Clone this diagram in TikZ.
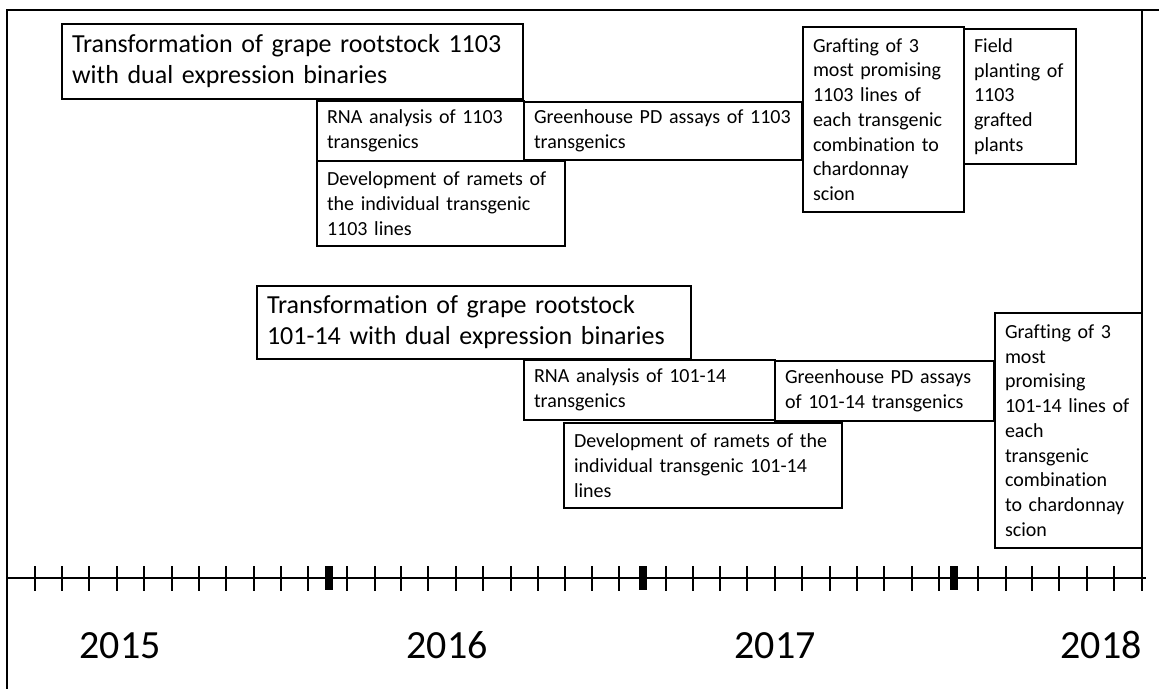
\documentclass[tikz,border=0pt]{standalone}
\usepackage{fontspec}
\setmainfont{Carlito}[Ligatures=NoCommon]
\begin{document}
\begin{tikzpicture}[x=1pt, y=-1pt, bigBoxStyle/.style={rectangle, draw, line width=1.2pt, inner xsep=10pt, inner ysep=0pt, align=left, font=\fontsize{26}{31}\selectfont}, boxStyle/.style={rectangle, draw, line width=1.2pt, inner xsep=10pt, inner ysep=0pt, align=left, font=\fontsize{20}{24.7}\selectfont}, yearStyle/.style={anchor=base, font=\fontsize{40}{48}\selectfont}, frameStyle/.style={line width=2pt}, tickStyle/.style={line width=2.8pt}]
                    \useasboundingbox (0,0) rectangle (1159,689);

                    % 1103 row
                    \node[bigBoxStyle, text width=441pt, minimum height=75pt] (trans_1103) at (292.5, 61.5) {Transformation of grape rootstock 1103\\with dual expression binaries};
                    \node[boxStyle, text width=187pt, minimum height=60pt] (rna_1103)   at (420.5, 131)   {RNA analysis of 1103\\transgenics};
                    \node[boxStyle, text width=228pt, minimum height=85pt] (dev_1103)   at (  441, 203.5) {Development of ramets of\\the individual transgenic\\1103 lines};
                    \node[boxStyle, text width=258pt, minimum height=58pt] (gh_1103)    at (  663, 131)   {Greenhouse PD assays of 1103\\transgenics};
                    \node[boxStyle, text width=141pt, minimum height=185pt] (graft_1103) at (883.5, 119.5) {Grafting of 3\\most promising\\1103 lines of\\each transgenic\\combination to\\chardonnay\\scion};
                    \node[boxStyle, text width=92pt, minimum height=135pt] (field_1103) at ( 1020, 96.5)  {Field\\planting of\\1103\\grafted\\plants};

                    % 101-14 row
                    \node[bigBoxStyle, text width=414pt, minimum height=73pt] (trans_10114) at (  474, 322.5) {Transformation of grape rootstock\\101-14 with dual expression binaries};
                    \node[boxStyle, text width=231pt, minimum height=60pt] (rna_10114)   at (649.5, 390)   {RNA analysis of 101-14\\transgenics};
                    \node[boxStyle, text width=258pt, minimum height=85pt] (dev_10114)   at (  703, 465.5) {Development of ramets of the\\individual transgenic 101-14\\lines};
                    \node[boxStyle, text width=199pt, minimum height=60pt] (gh_10114)    at (884.5, 391)   {Greenhouse PD assays\\of 101-14 transgenics};
                    \node[boxStyle, text width=127pt, minimum height=235pt] (graft_10114) at (1068.5, 430.5) {Grafting of 3\\most\\promising\\101-14 lines of\\each\\transgenic\\combination\\to chardonnay\\scion};

                    % frame and time axis
                    \draw[frameStyle] (1159,10) -- (7,10) -- (7,689);
                    \draw[frameStyle] (1142,10) -- (1142,578);
                    \draw[frameStyle] (7,578) -- (1146,578);
                    \foreach \x in {35,62,89,117,144,172,199,226,254,281,308,347,375,401,428,456,483,511,538,565,592,619,666,693,720,747,775,802,830,857,884,912,939,978,1006,1032,1059,1087,1114,1142}
                        \draw[tickStyle] (\x,566) -- (\x,591);
                    \foreach \x in {329,643,954}
                        \fill (\x-4,566) rectangle (\x+4,590);

                    \node[yearStyle] (year_2015) at ( 120, 658) {2015};
                    \node[yearStyle] (year_2016) at ( 447, 658) {2016};
                    \node[yearStyle] (year_2017) at ( 775, 658) {2017};
                    \node[yearStyle] (year_2018) at (1101, 658) {2018};
                \end{tikzpicture}
\end{document}
